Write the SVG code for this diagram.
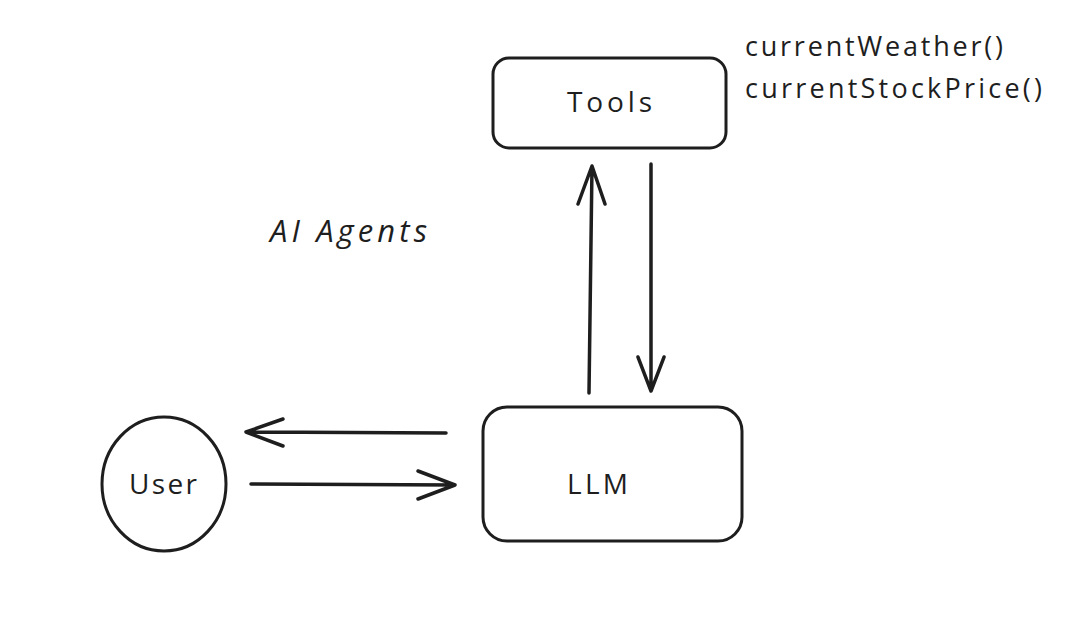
<svg xmlns="http://www.w3.org/2000/svg" width="1071" height="630" viewBox="0 0 1071 630">
<style>
.shape{fill:none;stroke:#1e1e1e;stroke-width:3;stroke-linejoin:round}
.edge{fill:none;stroke:#1e1e1e;stroke-width:3.5;stroke-linecap:round;stroke-linejoin:round}
.lbl{font-family:"Open Sans","Liberation Sans",sans-serif;fill:#1e1e1e}
</style>
<rect width="1071" height="630" fill="#ffffff"/>
<g id="tools">
<rect class="shape" x="493" y="58" width="233" height="90" rx="16"/>
<text class="lbl" x="567" y="112" font-size="28" textLength="85" lengthAdjust="spacing">Tools</text>
</g>
<g id="tool-list">
<text class="lbl" x="745" y="56" font-size="27" textLength="258" lengthAdjust="spacing">currentWeather()</text>
<text class="lbl" x="745" y="98" font-size="27" textLength="297" lengthAdjust="spacing">currentStockPrice()</text>
</g>
<g id="title">
<text class="lbl" x="270" y="242" font-size="31" font-style="italic" textLength="157" lengthAdjust="spacing">AI Agents</text>
</g>
<g id="user">
<ellipse class="shape" cx="164" cy="484" rx="62" ry="67"/>
<text class="lbl" x="129" y="494" font-size="28" textLength="68" lengthAdjust="spacing">User</text>
</g>
<g id="llm">
<rect class="shape" x="483" y="407" width="259" height="134" rx="24"/>
<text class="lbl" x="567" y="494" font-size="28" textLength="61" lengthAdjust="spacing">LLM</text>
</g>
<g id="connectors">
<path class="edge" d="M589 393 L592 166 M578 204 L592 166 L605 204"/>
<path class="edge" d="M651 164 L651 391 M638 357 L651 391 L664 357"/>
<path class="edge" d="M446 433 L246 432 M283 419 L246 432 L283 446"/>
<path class="edge" d="M251 484 L455 485 M418 471 L455 485 L418 499"/>
</g>
</svg>
